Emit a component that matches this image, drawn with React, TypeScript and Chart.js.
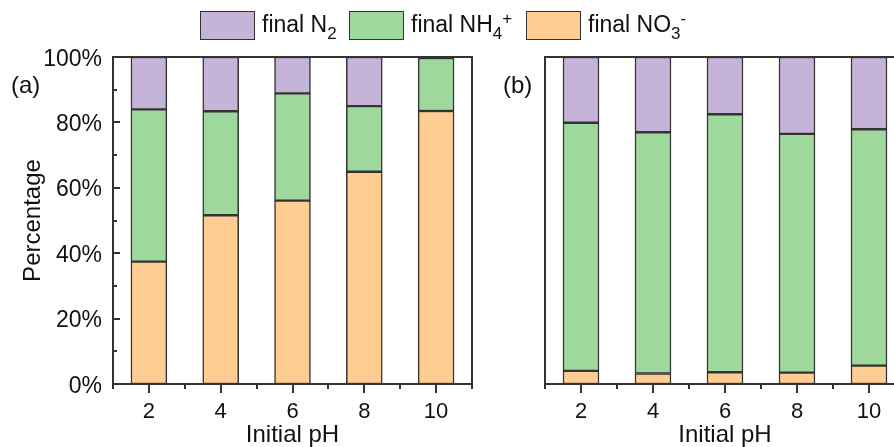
import React, { useEffect, useRef } from 'react';
import { Chart, registerables } from 'chart.js';

Chart.register(...registerables);

// ---------- data ----------
const pH = [2, 4, 6, 8, 10];
const xTickValues = [1, 2, 3, 4, 5, 6, 7, 8, 9, 10, 11];
const xTickLabels = ['', '2', '', '4', '', '6', '', '8', '', '10', ''];
const yTickValues = [0, 20, 40, 60, 80, 100];
const yTickLabels = ['0%', '20%', '40%', '60%', '80%', '100%'];
const yMinorTickValues = [0, 10, 20, 30, 40, 50, 60, 70, 80, 90, 100];
const xTitle = 'Initial pH';
const yTitle = 'Percentage';

// panel (a)
const aNO3 = [37.4, 51.6, 56.1, 64.9, 83.5];
const aNH4 = [46.6, 31.8, 32.8, 20.1, 16.2];
const aN2 = [16.0, 16.6, 11.1, 15.0, 0.3];

// panel (b)
const bNO3 = [4.0, 3.2, 3.6, 3.5, 5.6];
const bNH4 = [75.9, 73.8, 78.9, 73.0, 72.3];
const bN2 = [20.1, 23.0, 17.5, 23.5, 22.1];

const colorN2 = '#C5B4D8';
const colorNH4 = '#9ED89C';
const colorNO3 = '#FFCD92';
const edge = '#333333';
const textColor = '#111111';
const FONT = '"Liberation Sans", Arial, Helvetica, sans-serif';

function framePlugin(label: string, labelX: number, showY: boolean) {
  return {
    id: 'frame' + (showY ? 'a' : 'b'),
    afterDraw(chart: any) {
      const { ctx, chartArea } = chart;
      const { left, right, top, bottom } = chartArea;
      const xs = chart.scales.x;
      const ys = chart.scales.y;
      ctx.save();
      // frame
      ctx.strokeStyle = edge;
      ctx.lineWidth = 2;
      ctx.strokeRect(left, top, right - left, bottom - top);
      // tick marks
      ctx.beginPath();
      xTickValues.forEach((v, i) => {
        const px = Math.round(xs.getPixelForValue(v));
        ctx.moveTo(px, bottom);
        ctx.lineTo(px, bottom + (xTickLabels[i] ? 9 : 5));
      });
      if (showY) {
        for (const v of yMinorTickValues) {
          const py = Math.round(ys.getPixelForValue(v));
          ctx.moveTo(left, py);
          ctx.lineTo(left + (v % 20 === 0 ? 7 : 4), py);
        }
      }
      ctx.stroke();
      ctx.fillStyle = textColor;
      // x tick labels
      ctx.font = `22px ${FONT}`;
      ctx.textAlign = 'center';
      ctx.textBaseline = 'alphabetic';
      xTickValues.forEach((v, i) => {
        if (!xTickLabels[i]) return;
        ctx.fillText(xTickLabels[i], xs.getPixelForValue(v), bottom + 34);
      });
      // x title
      ctx.font = `24px ${FONT}`;
      ctx.fillText(xTitle, (left + right) / 2, bottom + 58);
      if (showY) {
        ctx.font = `23px ${FONT}`;
        ctx.textAlign = 'right';
        yTickValues.forEach((v, i) => {
          ctx.fillText(yTickLabels[i], left - 11, ys.getPixelForValue(v) + 8.5);
        });
        ctx.save();
        ctx.translate(40, (top + bottom) / 2);
        ctx.rotate(-Math.PI / 2);
        ctx.textAlign = 'center';
        ctx.font = `24px ${FONT}`;
        ctx.fillText(yTitle, 0, 0);
        ctx.restore();
      }
      // panel label
      ctx.font = `24px ${FONT}`;
      ctx.textAlign = 'left';
      ctx.fillText(label, labelX, 93);
      ctx.restore();
    },
  };
}

function buildConfig(no3: number[], nh4: number[], n2: number[], showY: boolean, yWidth: number, padRight: number, label: string, labelX: number): any {
  const ds = (name: string, vals: number[], color: string) => ({
    label: name,
    data: pH.map((x, i) => ({ x, y: vals[i] })),
    backgroundColor: color,
    borderColor: edge,
    borderWidth: 1.5,
    borderSkipped: false,
    barPercentage: 1,
    categoryPercentage: 1,
  });
  return {
    type: 'bar',
    data: {
      datasets: [
        ds('final NO3-', no3, colorNO3),
        ds('final NH4+', nh4, colorNH4),
        ds('final N2', n2, colorN2),
      ],
    },
    options: {
      responsive: false,
      animation: false,
      devicePixelRatio: 1,
      layout: { padding: { top: 57, right: padRight, left: 0, bottom: 0 } },
      plugins: { legend: { display: false }, tooltip: { enabled: false } },
      scales: {
        x: {
          type: 'linear',
          stacked: true,
          min: 1,
          max: 11,
          offset: false,
          grid: { display: false, offset: false },
          border: { display: false },
          ticks: { display: false, stepSize: 1 },
          title: { display: false },
          afterFit: (scale: any) => {
            scale.height = 63;
          },
        },
        y: {
          type: 'linear',
          stacked: true,
          min: 0,
          max: 100,
          grid: { display: false },
          border: { display: false },
          ticks: { display: false, stepSize: 20 },
          title: { display: false },
          afterFit: (scale: any) => {
            scale.width = yWidth;
          },
        },
      },
    },
    plugins: [framePlugin(label, labelX, showY)],
  };
}

function Panel(props: { left: number; width: number; cfg: () => any }) {
  const ref = useRef<HTMLCanvasElement>(null);
  useEffect(() => {
    if (!ref.current) return;
    const chart = new Chart(ref.current, props.cfg());
    return () => chart.destroy();
  }, []);
  return (
    <canvas
      ref={ref}
      width={props.width}
      height={447}
      style={{ position: 'absolute', left: props.left, top: 0, width: props.width, height: 447 }}
    />
  );
}

const legendLayout = [
  { boxX: 200, textX: 262 },
  { boxX: 349, textX: 411 },
  { boxX: 526, textX: 588 },
];

export default function App() {
  const subStyle: React.CSSProperties = { position: 'relative', top: 7, fontSize: 17 };
  const supStyle: React.CSSProperties = { position: 'relative', top: -8, fontSize: 17 };
  const textStyle = (x: number): React.CSSProperties => ({
    position: 'absolute',
    left: x,
    top: 10,
    font: `23px ${FONT}`,
    lineHeight: '28px',
    color: textColor,
    whiteSpace: 'nowrap',
  });
  const boxStyle = (x: number, c: string): React.CSSProperties => ({
    position: 'absolute',
    left: x,
    top: 11,
    width: 55,
    height: 29,
    boxSizing: 'border-box',
    border: `1.5px solid ${edge}`,
    background: c,
  });
  return (
    <div style={{ position: 'absolute', left: 0, top: 0, width: 894, height: 447, overflow: 'hidden', background: '#fff' }}>
      <Panel left={0} width={480} cfg={() => buildConfig(aNO3, aNH4, aN2, true, 113, 8, '(a)', 11)} />
      <Panel left={480} width={430} cfg={() => buildConfig(bNO3, bNH4, bN2, false, 65, 5, '(b)', 23)} />
      <div style={boxStyle(legendLayout[0].boxX, colorN2)} />
      <div style={textStyle(legendLayout[0].textX)}>
        final N<span style={subStyle}>2</span>
      </div>
      <div style={boxStyle(legendLayout[1].boxX, colorNH4)} />
      <div style={textStyle(legendLayout[1].textX)}>
        final NH<span style={subStyle}>4</span>
        <span style={supStyle}>+</span>
      </div>
      <div style={boxStyle(legendLayout[2].boxX, colorNO3)} />
      <div style={textStyle(legendLayout[2].textX)}>
        final NO<span style={subStyle}>3</span>
        <span style={supStyle}>-</span>
      </div>
    </div>
  );
}
